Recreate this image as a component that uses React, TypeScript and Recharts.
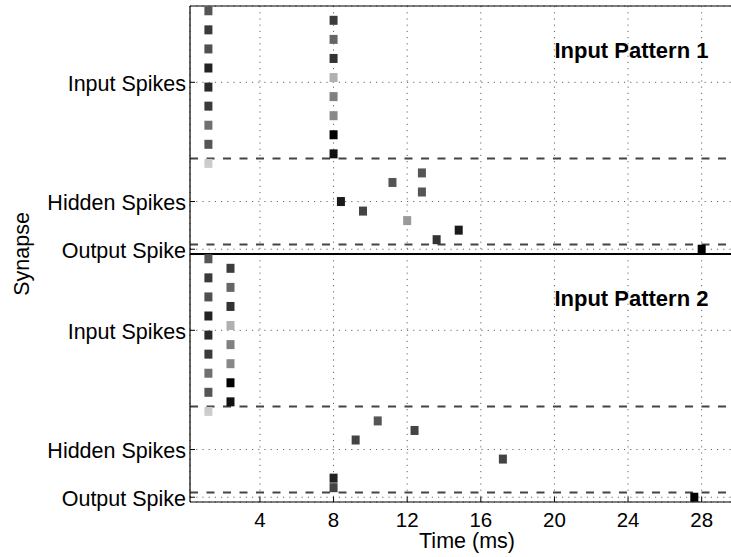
import {
  CartesianGrid,
  Label,
  ReferenceDot,
  ReferenceLine,
  Scatter,
  ScatterChart,
  XAxis,
  YAxis,
} from "recharts";

const FONT = "'Liberation Sans', Arial, Helvetica, sans-serif";

const TIME_TICKS = [4, 8, 12, 16, 20, 24, 28];
const ROW_TICKS = [1, 6, 18.5, 27, 32, 44.5];
const ROW_LABELS = [
  "Output Spike",
  "Hidden Spikes",
  "Input Spikes",
  "Output Spike",
  "Hidden Spikes",
  "Input Spikes",
];

// 17 input synapses, bottom to top (rows 10-26 in pattern 2, rows 36-52 in pattern 1)
const INPUT_SHADES = [
  "#cccccc", "#111111", "#555555", "#000000", "#707070", "#888888",
  "#3a3a3a", "#808080", "#2a2a2a", "#b0b0b0", "#222222", "#333333",
  "#505050", "#666666", "#3a3a3a", "#3c3c3c", "#555555",
];
const INPUT_TIMES_1 = [1.2, 8, 1.2, 8, 1.2, 8, 1.2, 8, 1.2, 8, 1.2, 8, 1.2, 8, 1.2, 8, 1.2];
const INPUT_TIMES_2 = [1.2, 2.4, 1.2, 2.4, 1.2, 2.4, 1.2, 2.4, 1.2, 2.4, 1.2, 2.4, 1.2, 2.4, 1.2, 2.4, 1.2];

// 8 hidden neurons, bottom to top (rows 2-9 / 28-35); null = no spike
const HIDDEN_TIMES_1 = [13.6, 14.8, 12.0, 9.6, 8.4, 12.8, 11.2, 12.8];
const HIDDEN_SHADES_1 = ["#333333", "#1a1a1a", "#999999", "#444444", "#1a1a1a", "#555555", "#555555", "#555555"];
const HIDDEN_TIMES_2 = [8.0, 8.0, null, 17.2, null, 9.2, 12.4, 10.4];
const HIDDEN_SHADES_2 = ["#444444", "#222222", null, "#444444", null, "#444444", "#444444", "#555555"];

// output neuron: pattern 1 (row 27), pattern 2 (row 1)
const OUTPUT_TIMES = [28.0, 27.6];
const OUTPUT_SHADES = ["#000000", "#000000"];

const DASHED_ROWS = [1.5, 10.5, 27.5, 36.5];
const DIVIDER_ROW = 26.5;

const PATTERN_LABELS = [
  { text: "Input Pattern 1", t: 20, row: 47 },
  { text: "Input Pattern 2", t: 20, row: 21 },
];

type Spike = { t: number; row: number; shade: string };

const toSpikes = (times: (number | null)[], shades: (string | null)[], firstRow: number): Spike[] =>
  times.flatMap((t, i) => (t == null ? [] : [{ t, row: firstRow + i, shade: shades[i] as string }]));

const input1 = toSpikes(INPUT_TIMES_1, INPUT_SHADES, 36);
const input2 = toSpikes(INPUT_TIMES_2, INPUT_SHADES, 10);
const hidden1 = toSpikes(HIDDEN_TIMES_1, HIDDEN_SHADES_1, 28);
const hidden2 = toSpikes(HIDDEN_TIMES_2, HIDDEN_SHADES_2, 2);
const output = [
  { t: OUTPUT_TIMES[0], row: 27, shade: OUTPUT_SHADES[0] },
  { t: OUTPUT_TIMES[1], row: 1, shade: OUTPUT_SHADES[1] },
];

function SpikeMark(props: any) {
  const { cx, cy, payload } = props;
  if (cx == null || cy == null) return null;
  return <rect x={cx - 4} y={cy - 4.5} width={8} height={9} fill={payload.shade} />;
}

function BottomTick({ x, y, payload }: any) {
  return (
    <g>
      <line x1={x} x2={x} y1={y} y2={y - 5} stroke="#000" />
      <text x={x} y={y + 25} textAnchor="middle" fontSize={20.5} fontFamily={FONT} fill="#000">
        {payload.value}
      </text>
    </g>
  );
}

function TopTick({ x, y }: any) {
  return <line x1={x} x2={x} y1={y} y2={y + 5} stroke="#000" />;
}

function LeftTick({ x, y, payload }: any) {
  const label = ROW_LABELS[ROW_TICKS.indexOf(payload.value)];
  return (
    <g>
      <line x1={x} x2={x + 5} y1={y} y2={y} stroke="#000" />
      <text x={x - 4} y={y + 8.5} textAnchor="end" fontSize={21.5} fontFamily={FONT} fill="#000">
        {label}
      </text>
    </g>
  );
}

export default function App() {
  return (
    <div
      style={{
        position: "absolute",
        left: 0,
        top: 0,
        width: 731,
        height: 557,
        overflow: "hidden",
        background: "#fff",
      }}
    >
      <ScatterChart width={760} height={557} margin={{ top: 0, right: 16, bottom: 0, left: 0 }}>
        <CartesianGrid stroke="#666" strokeDasharray="1.2 5" />
        <XAxis
          type="number"
          dataKey="t"
          domain={[0.2, 30.3]}
          ticks={TIME_TICKS}
          height={55}
          tickSize={0}
          tickMargin={0}
          tickLine={false}
          axisLine={{ stroke: "#000", strokeWidth: 1.2 }}
          tick={<BottomTick />}
        >
          <Label
            content={(p: any) => (
              <text
                x={p.viewBox.x + p.viewBox.width / 2}
                y={p.viewBox.y + 46}
                textAnchor="middle"
                fontSize={21.5}
                fontFamily={FONT}
                fill="#000"
              >
                Time (ms)
              </text>
            )}
          />
        </XAxis>
        <XAxis
          xAxisId="top"
          orientation="top"
          type="number"
          domain={[0.2, 30.3]}
          ticks={TIME_TICKS}
          height={6}
          tickSize={0}
          tickMargin={0}
          tickLine={false}
          axisLine={{ stroke: "#000", strokeWidth: 1.2 }}
          tick={<TopTick />}
        />
        <YAxis
          type="number"
          dataKey="row"
          domain={[0.5, 52.5]}
          ticks={ROW_TICKS}
          width={190}
          tickSize={0}
          tickMargin={0}
          tickLine={false}
          axisLine={{ stroke: "#000", strokeWidth: 1.2 }}
          tick={<LeftTick />}
        >
          <Label
            content={(p: any) => (
              <text
                transform={`translate(${p.viewBox.x + 28.5},${p.viewBox.y + p.viewBox.height / 2}) rotate(-90)`}
                textAnchor="middle"
                fontSize={21.5}
                fontFamily={FONT}
                fill="#000"
              >
                Synapse
              </text>
            )}
          />
        </YAxis>
        {DASHED_ROWS.map((r) => (
          <ReferenceLine key={r} y={r} stroke="#444" strokeWidth={2} strokeDasharray="8 8.5" />
        ))}
        <ReferenceLine y={DIVIDER_ROW} stroke="#000" strokeWidth={2} />
        <Scatter name="input1" data={input1} shape={<SpikeMark />} isAnimationActive={false} />
        <Scatter name="input2" data={input2} shape={<SpikeMark />} isAnimationActive={false} />
        <Scatter name="hidden1" data={hidden1} shape={<SpikeMark />} isAnimationActive={false} />
        <Scatter name="hidden2" data={hidden2} shape={<SpikeMark />} isAnimationActive={false} />
        <Scatter name="output" data={output} shape={<SpikeMark />} isAnimationActive={false} />
        {PATTERN_LABELS.map((l) => (
          <ReferenceDot
            key={l.text}
            x={l.t}
            y={l.row}
            r={0}
            fill="none"
            stroke="none"
            label={{
              content: (p: any) => (
                <text
                  x={p.viewBox.x}
                  y={p.viewBox.y}
                  fontSize={22}
                  fontWeight="bold"
                  fontFamily={FONT}
                  fill="#000"
                >
                  {l.text}
                </text>
              ),
            }}
          />
        ))}
      </ScatterChart>
    </div>
  );
}
